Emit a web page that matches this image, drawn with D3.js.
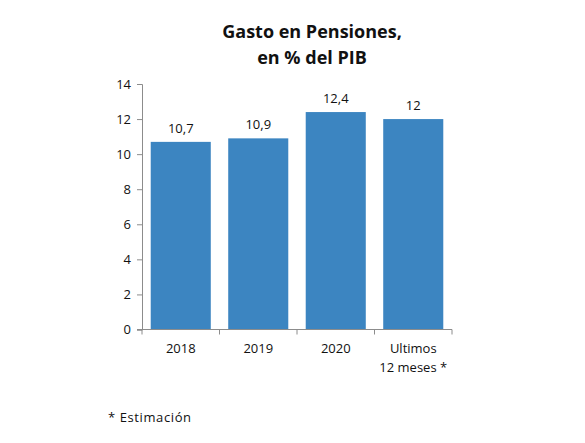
<!DOCTYPE html>
<html>
<head>
<meta charset="utf-8">
<script src="https://cdn.jsdelivr.net/npm/d3@7"></script>
<style>
body { margin: 0; background: #fff; }
svg text { font-family: "Open Sans", "Noto Sans", sans-serif; }
</style>
</head>
<body>
<div id="chart"></div>
<script>
var categories = ["2018", "2019", "2020", "Ultimos\n12 meses *"];
var values = [10.7, 10.9, 12.4, 12];
var valueLabels = ["10,7", "10,9", "12,4", "12"];
var yTicks = [0, 2, 4, 6, 8, 10, 12, 14];

var width = 585, height = 443;
var plotLeft = 142, plotRight = 452, plotTop = 84, plotBottom = 329.5;
var barColor = "#3c85c1";
var axisColor = "#8c8c8c";

var svg = d3.select("#chart").append("svg")
    .attr("width", width)
    .attr("height", height);

// titulo
svg.append("text")
    .attr("x", 312).attr("y", 38)
    .attr("text-anchor", "middle")
    .style("font-size", "18px").style("font-weight", "bold")
    .style("fill", "#111")
    .text("Gasto en Pensiones,");
svg.append("text")
    .attr("x", 312).attr("y", 64)
    .attr("text-anchor", "middle")
    .style("font-size", "18px").style("font-weight", "bold")
    .style("fill", "#111")
    .text("en % del PIB");

var x = d3.scaleBand()
    .domain(categories)
    .range([plotLeft, plotRight])
    .paddingInner(0.225)
    .paddingOuter(0.1125);

var y = d3.scaleLinear()
    .domain([0, 14])
    .range([plotBottom, plotTop]);

// barras
svg.selectAll("rect.bar")
    .data(values)
    .enter().append("rect")
    .attr("class", "bar")
    .attr("x", function(d, i) { return x(categories[i]); })
    .attr("y", function(d) { return y(d); })
    .attr("width", x.bandwidth())
    .attr("height", function(d) { return y(0) - y(d); })
    .attr("fill", barColor);

// etiquetas de valor
svg.selectAll("text.val")
    .data(values)
    .enter().append("text")
    .attr("class", "val")
    .attr("x", function(d, i) { return x(categories[i]) + x.bandwidth() / 2; })
    .attr("y", function(d) { return y(d) - 9; })
    .attr("text-anchor", "middle")
    .style("font-size", "13px")
    .style("fill", "#111")
    .text(function(d, i) { return valueLabels[i]; });

// eje y
var yAxis = svg.append("g")
    .attr("transform", "translate(" + plotLeft + ",0)")
    .call(d3.axisLeft(y).tickValues(yTicks).tickSize(5).tickPadding(6));
yAxis.select(".domain").attr("stroke", axisColor);
yAxis.selectAll(".tick line").attr("stroke", axisColor);
yAxis.selectAll(".tick text")
    .style("font-size", "13px").style("fill", "#111")
    .style("font-family", "'Open Sans', sans-serif");

// eje x
var xAxis = svg.append("g")
    .attr("transform", "translate(0," + plotBottom + ")");
xAxis.append("line")
    .attr("x1", plotLeft - 5).attr("x2", plotRight)
    .attr("stroke", axisColor);
var bounds = categories.map(function(c) { return x(c) - x.step() * x.paddingInner() / 2; });
bounds.push(plotRight);
xAxis.selectAll("line.tk")
    .data(bounds)
    .enter().append("line")
    .attr("class", "tk")
    .attr("x1", function(d) { return d; }).attr("x2", function(d) { return d; })
    .attr("y1", 0).attr("y2", 5)
    .attr("stroke", axisColor);

xAxis.selectAll("text.cat")
    .data(categories)
    .enter().append("text")
    .attr("class", "cat")
    .attr("text-anchor", "middle")
    .style("font-size", "13px")
    .style("fill", "#111")
    .each(function(c) {
        var lines = c.split("\n");
        var t = d3.select(this);
        lines.forEach(function(l, k) {
            t.append("tspan")
                .attr("x", x(c) + x.bandwidth() / 2)
                .attr("y", 23 + k * 19)
                .text(l);
        });
    });

// nota
svg.append("text")
    .attr("x", 108).attr("y", 422)
    .style("font-size", "13px")
    .style("letter-spacing", "0.6px")
    .style("fill", "#111")
    .text("* Estimación");
</script>
</body>
</html>
